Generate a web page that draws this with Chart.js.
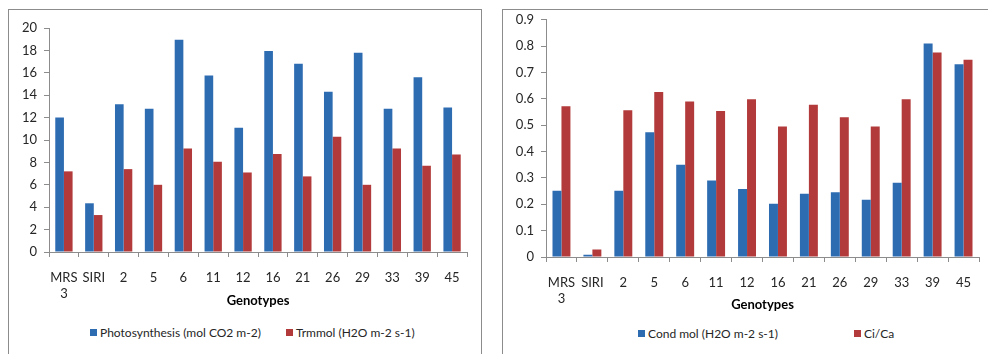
<!DOCTYPE html>
<html>
<head>
<meta charset="utf-8">
<script src="https://cdn.jsdelivr.net/npm/chart.js@4/dist/chart.umd.min.js"></script>
<style>
  body { margin: 0; background: #fff; width: 988px; height: 354px; overflow: hidden; position: relative; }
  .box { position: absolute; border: 1px solid #8c8c8c; background: #fff; }
  canvas { position: absolute; left: 0; }
  .legend { position: absolute; display: flex; align-items: center; font: 12px Lato, 'Open Sans', sans-serif; color: #262626; white-space: nowrap; }
  .legend .item { display: flex; align-items: center; }
  .legend .swatch { width: 7px; height: 7px; margin-right: 3px; }
</style>
</head>
<body>
<div class="box" style="left:8px; top:9px; width:472px; height:360px;">
  <canvas id="left-chart" width="472" height="299" style="top:0px;"></canvas>
</div>
<div class="box" style="left:502px; top:9px; width:500px; height:360px;">
  <canvas id="right-chart" width="485" height="308" style="top:-5px;"></canvas>
</div>
<div class="legend" id="left-legend" style="left:90px; top:325px; gap:25px;"></div>
<div class="legend" id="right-legend" style="left:638px; top:326px; gap:76px;"></div>
<script>
const genotypes = [["MRS", "3"], "SIRI", "2", "5", "6", "11", "12", "16", "21", "26", "29", "33", "39", "45"];

const photosynthesis = [12.0, 4.35, 13.2, 12.8, 18.95, 15.75, 11.1, 17.95, 16.8, 14.3, 17.8, 12.8, 15.6, 12.9];
const trmmol = [7.2, 3.3, 7.4, 6.0, 9.25, 8.05, 7.1, 8.75, 6.75, 10.3, 6.0, 9.25, 7.7, 8.7];

const condMol = [0.251, 0.009, 0.251, 0.473, 0.350, 0.290, 0.258, 0.202, 0.240, 0.246, 0.217, 0.282, 0.810, 0.731];
const ciCa = [0.572, 0.028, 0.557, 0.626, 0.590, 0.554, 0.599, 0.495, 0.578, 0.530, 0.495, 0.599, 0.776, 0.748];

const blue = "#2e6cb2";
const red = "#b33a3a";
const axisGrey = "#8c8c8c";
const font = "Lato, 'Open Sans', sans-serif";

Chart.defaults.font.family = font;
Chart.defaults.color = "#262626";
Chart.defaults.animation = false;

function makeChart(canvasId, legendId, series, yMax, yStep, yWidth, xHeight, padding) {
    const canvas = document.getElementById(canvasId);

    const chart = new Chart(canvas, {
        type: "bar",
        data: {
            labels: genotypes,
            datasets: series.map((s) => ({
                label: s.label,
                data: s.data,
                backgroundColor: s.color,
                borderWidth: 0,
                categoryPercentage: 0.58,
                barPercentage: 1.0,
            })),
        },
        options: {
            responsive: false,
            maintainAspectRatio: false,
            layout: { padding },
            plugins: {
                legend: { display: false },
                tooltip: { enabled: false },
            },
            scales: {
                x: {
                    grid: {
                        display: true,
                        drawOnChartArea: false,
                        color: axisGrey,
                        tickLength: 5,
                    },
                    border: { color: axisGrey },
                    ticks: {
                        padding: 13,
                        maxRotation: 0,
                        autoSkip: false,
                        font: { size: 13 },
                        color: "#262626",
                    },
                    title: {
                        display: true,
                        text: "Genotypes",
                        font: { size: 13, weight: "bold" },
                        color: "#000",
                        padding: 0,
                    },
                    afterFit(scale) {
                        scale.height = xHeight;
                    },
                },
                y: {
                    min: 0,
                    max: yMax,
                    grid: {
                        display: true,
                        drawOnChartArea: false,
                        color: axisGrey,
                        tickLength: 5,
                    },
                    border: { color: axisGrey },
                    ticks: {
                        stepSize: yStep,
                        padding: 7,
                        font: { size: 13 },
                        color: "#262626",
                    },
                    afterFit(scale) {
                        scale.width = yWidth;
                    },
                },
            },
        },
    });

    // html legend, spaced like the original spreadsheet legend
    const legendEl = document.getElementById(legendId);
    Chart.defaults.plugins.legend.labels.generateLabels(chart).forEach((item) => {
        const row = document.createElement("span");
        row.className = "item";
        const swatch = document.createElement("span");
        swatch.className = "swatch";
        swatch.style.background = item.fillStyle;
        const text = document.createElement("span");
        text.textContent = item.text;
        row.append(swatch, text);
        legendEl.append(row);
    });

    return chart;
}

makeChart(
    "left-chart",
    "left-legend",
    [
        { label: "Photosynthesis (mol CO2 m-2)", data: photosynthesis, color: blue },
        { label: "Trmmol (H2O m-2 s-1)", data: trmmol, color: red },
    ],
    20, 2, 40, 57,
    { top: 18, right: 14, bottom: 0, left: 0 }
);

makeChart(
    "right-chart",
    "right-legend",
    [
        { label: "Cond mol (H2O m-2 s-1)", data: condMol, color: blue },
        { label: "Ci/Ca", data: ciCa, color: red },
    ],
    0.9, 0.1, 43, 56,
    { top: 10, right: 9, bottom: 0, left: 0 }
);
</script>
</body>
</html>
